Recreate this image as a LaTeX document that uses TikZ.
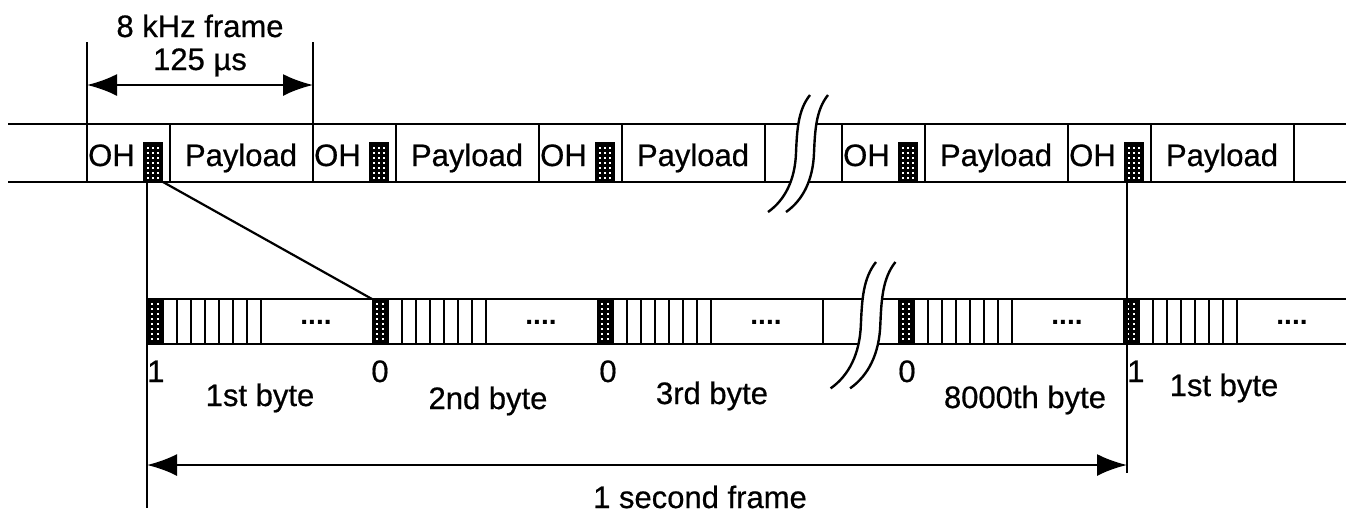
\documentclass[tikz,border=0pt]{standalone}
\usepackage{fontspec}
\setmainfont{Liberation Sans}
\newfontfamily\scanfont{Liberation Sans}[FakeBold=0.6]
\usetikzlibrary{arrows.meta}
\begin{document}
\begin{tikzpicture}[x=1pt,y=-1pt,
  ln/.style={line width=2.6pt},
  thinln/.style={line width=2.2pt},
  blk/.style={fill=black, draw=black, line width=1pt, inner sep=0pt},
  lbl/.style={font=\scanfont\fontsize{31}{35}\selectfont, inner sep=0pt, anchor=base},
  dotlbl/.style={font=\fontsize{28}{34}\selectfont\bfseries, inner sep=0pt},
  dim/.style={line width=2.4pt, {Latex[length=30pt,width=22pt]}-{Latex[length=30pt,width=22pt]}},
  brk/.pic={
    \fill[white] (0,0) .. controls (-12,15) and (-13,35) .. (-14,58)
      .. controls (-15,85) and (-25,105) .. (-42,117)
      -- (-24,117) .. controls (-7,105) and (3,85) .. (4,58)
      .. controls (5,35) and (6,15) .. (18,0) -- cycle;
    \draw[line width=2.4pt] (0,0) .. controls (-12,15) and (-13,35) .. (-14,58)
      .. controls (-15,85) and (-25,105) .. (-42,117);
    \draw[line width=2.4pt] (18,0) .. controls (6,15) and (5,35) .. (4,58)
      .. controls (3,85) and (-7,105) .. (-24,117);
  }
]
\useasboundingbox (0,0) rectangle (1346,515);

% ---------- top strip ----------
\draw[ln] (8,124) -- (1346,124) (8,182) -- (1346,182);
\foreach \F [count=\i] in {87,313,539,842,1068} {
  \draw[ln] (\F,124) -- (\F,182) (\F+83,124) -- (\F+83,182);
  \node[lbl, anchor=base west] at (\F+1,166) {OH};
  \node[lbl] at (\F+154,166) {Payload};
  \node[blk, minimum width=19pt, minimum height=39pt, anchor=south west] (oh\i) at (\F+56,182) {};
  \foreach \c in {4,9,14} \foreach \r in {147,152,...,177}
    \fill[white] (\F+56+\c,\r) rectangle +(2,2);
}
\draw[ln] (765,124) -- (765,182) (1294,124) -- (1294,182);

% ---------- bottom strip ----------
\draw[ln] (147,299) -- (1346,299) (147,344) -- (1346,344);
\foreach \B [count=\i] in {147,372,597,898,1123} {
  \node[blk, minimum width=16pt, minimum height=45pt, anchor=north west] (b\i) at (\B,299) {};
  \foreach \c in {4,10} \foreach \r in {303,308,...,338}
    \fill[white] (\B+\c,\r) rectangle +(2,2);
  \foreach \k in {1,...,6} \draw[thinln] (\B+16+14*\k,299) -- ++(0,45);
  \draw[ln] (\B+114,299) -- ++(0,45);
  \node[dotlbl] at (\B+169,322) {....};
}
\draw[ln] (823,299) -- (823,344);

% ---------- breaks ----------
\pic at (810,95) {brk};
\pic[scale=1.08] at (876,262) {brk};

% ---------- top dimension ----------
\coordinate (t1) at (87,42);
\coordinate (t2) at (313,42);
\draw[ln] (t1) -- (87,124) (t2) -- (313,124);
\coordinate (ta) at (87,85);
\coordinate (tb) at (313,85);
\draw[dim] (ta) -- (tb);
\node[lbl] at (200,37) {8 kHz frame};
\node[lbl] at (200,70) {125 µs};

% ---------- connectors ----------
\coordinate (e1) at (147,508);
\coordinate (e2) at (1127,473);
\draw[ln] ([xshift=4pt]oh1.south west) -- (e1);
\draw[ln] ([xshift=3pt]oh5.south west) -- (e2);
\draw[line width=2.2pt] (oh1.south east) -- (b2.north west);

\coordinate (ba) at (147,465);
\coordinate (bb) at (1127,465);
\draw[dim] (ba) -- (bb);
\node[lbl] at (700,508) {1 second frame};

% ---------- bottom labels ----------
\node[lbl, anchor=base west] at (147,382) {1};
\node[lbl] at (380,382) {0};
\node[lbl] at (608,382) {0};
\node[lbl] at (907,382) {0};
\node[lbl, anchor=base west] at (1127,382) {1};
\node[lbl] at (260,406) {1st byte};
\node[lbl] at (488,409) {2nd byte};
\node[lbl] at (712,404) {3rd byte};
\node[lbl] at (1025,408) {8000th byte};
\node[lbl] at (1224,396) {1st byte};
\end{tikzpicture}
\end{document}
